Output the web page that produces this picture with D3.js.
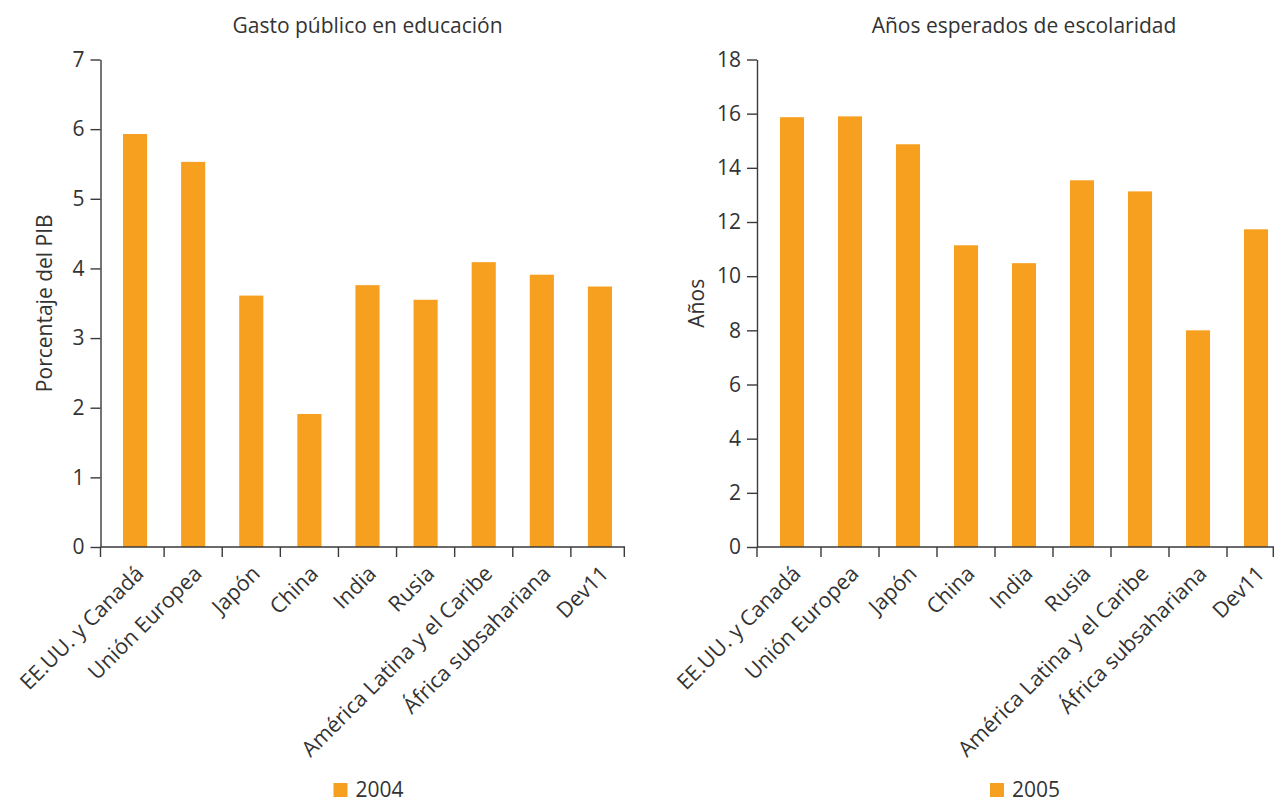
<!DOCTYPE html>
<html>
<head>
<meta charset="utf-8">
<script src="https://cdn.jsdelivr.net/npm/d3@7"></script>
<style>
  html, body { margin: 0; padding: 0; background: #fff; }
  svg { display: block; }
  text { font-family: "Open Sans", "Noto Sans", sans-serif; fill: #333; }
</style>
</head>
<body>
<svg id="chart" width="1274" height="803"></svg>
<script>
// ---- Data ----
const categories = ["EE.UU. y Canadá", "Unión Europea", "Japón", "China", "India", "Rusia",
  "América Latina y el Caribe", "África subsahariana", "Dev11"];
const gastoEducacion2004 = [5.93, 5.53, 3.61, 1.91, 3.76, 3.55, 4.09, 3.91, 3.74];
const aniosEscolaridad2005 = [15.87, 15.9, 14.87, 11.14, 10.48, 13.54, 13.13, 8.0, 11.73];
const leftTicks = [0, 1, 2, 3, 4, 5, 6, 7];
const rightTicks = [0, 2, 4, 6, 8, 10, 12, 14, 16, 18];
const leftTitle = "Gasto público en educación";
const rightTitle = "Años esperados de escolaridad";
const leftYLabel = "Porcentaje del PIB";
const rightYLabel = "Años";
const leftLegend = "2004";
const rightLegend = "2005";

const BAR = "#f79f1f";
const AXIS = "#3a3a3a";
const FS = 21;

const svg = d3.select("#chart");

function panel(cfg) {
  const g = svg.append("g");
  const x = d3.scaleBand().domain(categories).range([cfg.bandStart, cfg.bandEnd])
    .paddingInner(0.585).paddingOuter(0.2925);
  const y = d3.scaleLinear().domain([0, cfg.yMax]).range([cfg.y0, cfg.yTop]);

  // bars
  g.selectAll("rect.bar").data(cfg.values).join("rect")
    .attr("class", "bar")
    .attr("x", (d, i) => x(categories[i]))
    .attr("width", x.bandwidth())
    .attr("y", d => y(d))
    .attr("height", d => y(0) - y(d))
    .attr("fill", BAR);

  // y axis
  const yAxis = d3.axisLeft(y).tickValues(cfg.ticks).tickFormat(d3.format("d"))
    .tickSize(10).tickPadding(6).tickSizeOuter(0);
  const ya = g.append("g").attr("transform", `translate(${cfg.axisX},0)`).call(yAxis);
  ya.select(".domain").attr("stroke", AXIS).attr("stroke-width", 1.4);
  ya.selectAll(".tick line").attr("stroke", AXIS).attr("stroke-width", 1.4);
  ya.selectAll(".tick text").attr("font-size", FS).attr("font-family", "Open Sans").attr("fill", "#333");

  // x axis line
  g.append("line")
    .attr("x1", cfg.axisX).attr("x2", cfg.axisXEnd)
    .attr("y1", y(0)).attr("y2", y(0))
    .attr("stroke", AXIS).attr("stroke-width", 1.4);

  // x ticks at category boundaries
  const step = x.step();
  const bounds = [cfg.axisX];
  categories.slice(0, -1).forEach(c => bounds.push(x(c) + x.bandwidth() / 2 + step / 2));
  bounds.push(cfg.axisXEnd - 0.7);
  g.selectAll("line.xt").data(bounds).join("line")
    .attr("class", "xt")
    .attr("x1", d => d).attr("x2", d => d)
    .attr("y1", y(0)).attr("y2", y(0) + 10)
    .attr("stroke", AXIS).attr("stroke-width", 1.4);

  // category labels
  g.selectAll("text.cat").data(categories).join("text")
    .attr("class", "cat")
    .attr("font-size", 21.5)
    .attr("text-anchor", "end")
    .attr("transform", c => `translate(${x(c) + x.bandwidth() / 2 + 10},${y(0) + 28}) rotate(-45)`)
    .text(c => c);

  // title
  g.append("text")
    .attr("x", (cfg.bandStart + cfg.bandEnd) / 2)
    .attr("y", 33)
    .attr("text-anchor", "middle")
    .attr("font-size", FS)
    .text(cfg.title);

  // y label
  g.append("text")
    .attr("transform", `translate(${cfg.yLabelX},${(cfg.y0 + cfg.yTop) / 2}) rotate(-90)`)
    .attr("text-anchor", "middle")
    .attr("font-size", FS)
    .text(cfg.yLabel);

  // legend
  const lc = (cfg.bandStart + cfg.bandEnd) / 2;
  g.append("rect")
    .attr("x", lc - 34).attr("y", 783)
    .attr("width", 14).attr("height", 14)
    .attr("fill", BAR);
  g.append("text")
    .attr("x", lc - 12).attr("y", 797)
    .attr("font-size", FS)
    .text(cfg.legend);
}

panel({
  values: gastoEducacion2004, ticks: leftTicks, yMax: 7,
  bandStart: 106, bandEnd: 629, axisX: 100.5, axisXEnd: 625,
  y0: 547, yTop: 59.5, title: leftTitle, yLabel: leftYLabel, yLabelX: 52, legend: leftLegend
});
panel({
  values: aniosEscolaridad2005, ticks: rightTicks, yMax: 18,
  bandStart: 763, bandEnd: 1285, axisX: 757, axisXEnd: 1274,
  y0: 547, yTop: 59.5, title: rightTitle, yLabel: rightYLabel, yLabelX: 704, legend: rightLegend
});
</script>
</body>
</html>
